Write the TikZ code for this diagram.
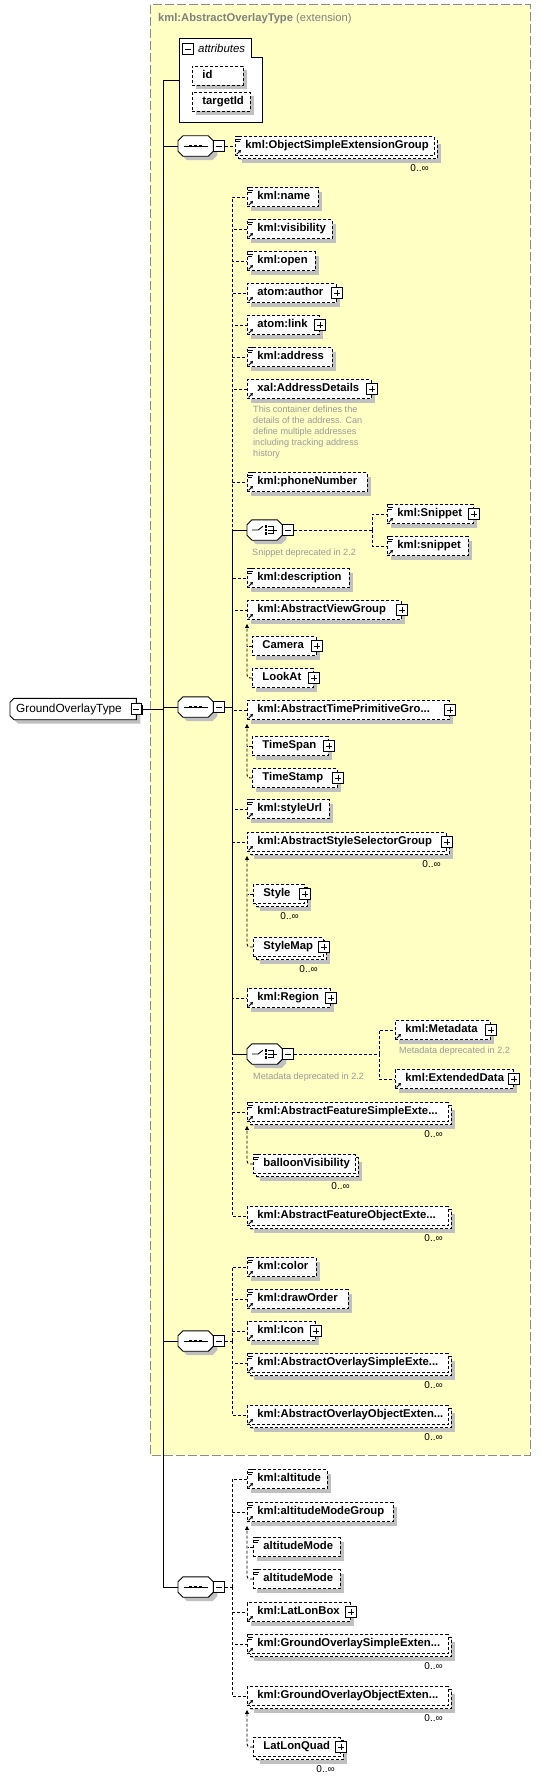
\documentclass[tikz,border=0pt]{standalone}
\usepackage{fontspec}
\setmainfont{Liberation Sans}
\usetikzlibrary{arrows.meta,calc,shadows}

\definecolor{extfill}{HTML}{FFFFC4}
\definecolor{extline}{HTML}{8C8C8C}
\definecolor{boxshadow}{HTML}{C0C0C0}
\definecolor{notegray}{HTML}{999999}
\definecolor{titlegray}{HTML}{808080}

\hyphenpenalty=10000
\exhyphenpenalty=10000

\newcommand{\elemfont}{\fontsize{11.3}{13}\selectfont\bfseries}
\newcommand{\notefont}{\fontsize{9.1}{11}\selectfont}
\newcommand{\multfont}{\fontsize{10}{12}\selectfont}

% little marks on the element boxes
\newcommand{\simplemark}[1]{%
  \draw[line width=0.8pt] ($(#1.north west)+(1,0.6)$) -- +(5,0)
    ($(#1.north west)+(1,3)$) -- +(5,0)
    ($(#1.north west)+(1,5.4)$) -- +(4,0);}
\newcommand{\refmark}[1]{%
  \draw[line width=0.9pt, -{Triangle[length=2.6pt,width=3pt]}]
    ($(#1.south west)+(1.6,-1.6)$) -- +(4.4,-4.4);}

% cut-corner outline of a compositor: node, left cut, right cut
\newcommand{\compshape}[3]{%
  \fill[boxshadow, transform canvas={shift={(4,4)}}]
    ($(#1.north west)+(#2,0)$) -- ($(#1.north east)+(-#3,0)$) -- ($(#1.north east)+(0,#3)$)
    -- ($(#1.south east)+(0,-#3)$) -- ($(#1.south east)+(-#3,0)$) -- ($(#1.south west)+(#2,0)$)
    -- ($(#1.south west)+(0,-#2)$) -- ($(#1.north west)+(0,#2)$) -- cycle;
  \draw[line width=0.9pt, fill=white]
    ($(#1.north west)+(#2,0)$) -- ($(#1.north east)+(-#3,0)$) -- ($(#1.north east)+(0,#3)$)
    -- ($(#1.south east)+(0,-#3)$) -- ($(#1.south east)+(-#3,0)$) -- ($(#1.south west)+(#2,0)$)
    -- ($(#1.south west)+(0,-#2)$) -- ($(#1.north west)+(0,#2)$) -- cycle;}
\newcommand{\seqicon}[1]{%
  \begin{scope}[shift={(#1.center)}]
    \draw[line width=0.9pt] (-12,0) -- (12,0);
    \foreach \dx in {-5,0,5} \fill (\dx-1.4,-1.4) rectangle (\dx+1.4,1.4);
  \end{scope}}
\newcommand{\choiceicon}[1]{%
  \begin{scope}[shift={(#1.center)}, line width=0.9pt]
    \draw (-12.5,0) -- (-6.5,0) -- (-1.8,-3.8);
    \draw (3.5,-3.4) -- (8.5,-3.4) -- (8.5,3.4) -- (3.5,3.4) (3.5,0) -- (12.5,0);
    \foreach \dy in {-3.4,0,3.4} \fill (0.3,\dy-1.2) rectangle (2.7,\dy+1.2);
  \end{scope}}

\tikzset{
  conn/.style={draw, line width=0.9pt},
  optconn/.style={conn, dash pattern=on 3pt off 2pt},
  boxshade/.style={drop shadow={shadow xshift=4pt, shadow yshift=-4pt, fill=boxshadow, opacity=1}},
  elem/.style={draw, line width=0.9pt, dash pattern=on 3pt off 2pt, fill=white, anchor=west,
    minimum height=19pt, inner xsep=10pt, inner ysep=0pt, align=left,
    text height=8.2pt, text depth=2.4pt, font=\elemfont, boxshade},
  w/.code={\pgfmathsetmacro\boxtw{#1-20}%
    \edef\boxtmp{\noexpand\tikzset{minimum width=#1pt, text width=\boxtw pt}}\boxtmp},
  stacked/.style={
    general shadow={shadow scale=1, shadow xshift=7pt, shadow yshift=-7pt, fill=boxshadow, opacity=1},
    general shadow={shadow scale=1, shadow xshift=3pt, shadow yshift=-3pt, fill=white, draw,
      line width=0.9pt, dash pattern=on 3pt off 2pt, opacity=1}},
  comp/.style={anchor=west, minimum width=35pt, minimum height=20pt, inner sep=0pt},
  rootbox/.style={anchor=west, minimum width=126pt, minimum height=21pt, inner sep=0pt},
  signbox/.style={draw, line width=0.9pt, fill=white, minimum size=10.5pt, inner sep=0pt,
    drop shadow={shadow xshift=1pt, shadow yshift=-1pt, fill=black, opacity=1}},
  plusbox/.style={signbox, path picture={
      \draw[line width=0.8pt]
        ([xshift=2.2pt]path picture bounding box.west) -- ([xshift=-2.2pt]path picture bounding box.east)
        ([yshift=-2.2pt]path picture bounding box.north) -- ([yshift=2.2pt]path picture bounding box.south);}},
  minusbox/.style={signbox, path picture={
      \draw[line width=0.8pt]
        ([xshift=2.2pt]path picture bounding box.west) -- ([xshift=-2.2pt]path picture bounding box.east);}},
  note/.style={font=\notefont, text=notegray, inner sep=0pt, align=left},
  mult/.style={font=\multfont, inner sep=0pt, anchor=east},
}

\begin{document}
\begin{tikzpicture}[x=1pt, y=-1pt]
    \useasboundingbox (0,0) rectangle (541,1782);
    \fill[white] (0,0) rectangle (541,1782);

    % extension area
    \draw[extline, fill=extfill, line width=1pt, dash pattern=on 9pt off 3pt] (150,5) rectangle (530,1455);
    \node[anchor=west, inner sep=0pt, text=titlegray, font=\fontsize{11.2}{13}\selectfont] at (158,19) (title)
      {\textbf{kml:AbstractOverlayType} (extension)};

    % attributes
    \draw[line width=0.9pt, fill=white] (179,38) -- (251,38) -- (251,57) -- (262,57) -- (262,122) -- (179,122) -- cycle;
    \node[minusbox] at (188,49) (attr-m) {};
    \node[anchor=west, inner sep=0pt, font=\fontsize{11.4}{13}\selectfont\itshape] at (198,48.5) (attr-t) {attributes};
    \node[elem, w=51] at (192,75.5) (id) {id};
    \node[elem, w=58] at (192,102) (targetid) {targetId};
    \coordinate (attr) at (179,80);

    % root and compositors
    \node[rootbox] at (10,709) (root) {};
    \compshape{root}{4}{0}
    \node[anchor=west, inner sep=0pt, font=\fontsize{11.8}{14}\selectfont] at ($(root.west)+(6,0)$) (root-t) {GroundOverlayType};
    \node[minusbox] at (root.east) (root-m) {};
    \node[comp] at (178,146) (seq1) {};
    \node[comp] at (178,707) (seq2) {};
    \node[comp] at (178,1341) (seq3) {};
    \node[comp] at (178,1587) (seq4) {};
    \node[comp] at (247,530) (choice1) {};
    \node[comp] at (247,1054) (choice2) {};
    \foreach \nm in {seq1,seq2,seq3,seq4} {\compshape{\nm}{5}{5} \seqicon{\nm}}
    \foreach \nm in {choice1,choice2} {\compshape{\nm}{5}{5} \choiceicon{\nm}}
    \foreach \nm in {seq1,seq2,seq3,seq4,choice1,choice2}
      \node[minusbox, anchor=west] at (\nm.east) (\nm-m) {};

    % first sequence
    \node[elem, w=199, stacked] at (235,146) (osimple) {kml:ObjectSimpleExtensionGroup};

    % second sequence
    \node[elem, w=71] at (247,197) (name) {kml:name};
    \node[elem, w=85] at (247,229) (visibility) {kml:visibility};
    \node[elem, w=68] at (247,261) (open) {kml:open};
    \node[elem, w=89] at (247,293) (author) {atom:author};
    \node[elem, w=72] at (247,325) (link) {atom:link};
    \node[elem, w=85] at (247,357) (address) {kml:address};
    \node[elem, w=124] at (247,389) (addrdetails) {xal:AddressDetails};
    \node[note, anchor=north west] at (253,405.5) (addrnote)
      {This container defines the\\details of the address. Can\\define multiple addresses\\including tracking address\\history};
    \node[elem, w=120] at (247,482) (phone) {kml:phoneNumber};
    \node[elem, w=86] at (387,514) (snippet1) {kml:Snippet};
    \node[elem, w=81] at (387,546) (snippet2) {kml:snippet};
    \node[note, anchor=west] at (252,553) (snipnote) {Snippet deprecated in 2.2};
    \node[elem, w=102] at (247,578) (description) {kml:description};
    \node[elem, w=154] at (247,610) (viewgroup) {kml:AbstractViewGroup};
    \node[elem, w=64] at (252,646) (camera) {Camera};
    \node[elem, w=61] at (252,678) (lookat) {LookAt};
    \node[elem, w=202] at (247,710) (timegroup) {kml:AbstractTimePrimitiveGro...};
    \node[elem, w=76] at (252,746) (timespan) {TimeSpan};
    \node[elem, w=85] at (252,778) (timestamp) {TimeStamp};
    \node[elem, w=82] at (247,809) (styleurl) {kml:styleUrl};
    \node[elem, w=199, stacked] at (247,842) (stylegroup) {kml:AbstractStyleSelectorGroup};
    \node[elem, w=51, stacked] at (253,894) (style) {Style};
    \node[elem, w=70, stacked] at (253,947) (stylemap) {StyleMap};
    \node[elem, w=83] at (247,998) (region) {kml:Region};
    \node[elem, w=95] at (395,1030) (metadata) {kml:Metadata};
    \node[note, anchor=west] at (399,1051) (metanote1) {Metadata deprecated in 2.2};
    \node[elem, w=118] at (395,1079) (extdata) {kml:ExtendedData};
    \node[note, anchor=west] at (253,1077) (metanote2) {Metadata deprecated in 2.2};
    \node[elem, w=201, stacked] at (247,1112) (featsimple) {kml:AbstractFeatureSimpleExte...};
    \node[elem, w=102, stacked] at (253,1164) (balloon) {balloonVisibility};
    \node[elem, w=201, stacked] at (247,1216) (featobject) {kml:AbstractFeatureObjectExte...};

    % third sequence
    \node[elem, w=69] at (247,1267) (color) {kml:color};
    \node[elem, w=101] at (247,1299) (draworder) {kml:drawOrder};
    \node[elem, w=68] at (247,1331) (icon) {kml:Icon};
    \node[elem, w=201, stacked] at (247,1363) (ovsimple) {kml:AbstractOverlaySimpleExte...};
    \node[elem, w=201, stacked] at (247,1415) (ovobject) {kml:AbstractOverlayObjectExten...};

    % fourth sequence
    \node[elem, w=80] at (247,1479) (altitude) {kml:altitude};
    \node[elem, w=146] at (247,1512) (altgroup) {kml:altitudeModeGroup};
    \node[elem, w=87] at (253,1547) (altmode1) {altitudeMode};
    \node[elem, w=87] at (253,1579) (altmode2) {altitudeMode};
    \node[elem, w=103] at (247,1612) (latlonbox) {kml:LatLonBox};
    \node[elem, w=201, stacked] at (247,1644) (gosimple) {kml:GroundOverlaySimpleExten...};
    \node[elem, w=201, stacked] at (247,1696) (goobject) {kml:GroundOverlayObjectExten...};
    \node[elem, w=87, stacked] at (253,1747) (latlonquad) {LatLonQuad};

    % marks, plus boxes, occurrences
    \foreach \nm in {osimple,name,visibility,open,address,phone,snippet1,snippet2,description,styleurl,
      featsimple,balloon,color,draworder,ovsimple,altitude,altgroup,altmode1,altmode2,gosimple}
      \simplemark{\nm};
    \foreach \nm in {osimple,name,visibility,open,author,link,address,addrdetails,phone,snippet1,snippet2,
      description,viewgroup,timegroup,styleurl,stylegroup,region,metadata,extdata,featsimple,featobject,
      color,draworder,icon,ovsimple,ovobject,altitude,altgroup,latlonbox,gosimple,goobject}
      \refmark{\nm};
    \foreach \nm in {author,link,addrdetails,snippet1,viewgroup,camera,lookat,timegroup,timespan,timestamp,
      stylegroup,style,stylemap,region,metadata,extdata,icon,latlonbox,latlonquad}
      \node[plusbox] at (\nm.east) (\nm-p) {};
    \foreach \nm in {osimple,stylegroup,style,stylemap,featsimple,balloon,featobject,ovsimple,ovobject,
      gosimple,goobject,latlonquad}
      \node[mult] at ($(\nm.east)+(-6,22)$) (\nm-n) {0..∞};

    % main connectors
    \coordinate (mainbus) at (163,709);
    \draw[conn] (root-m.east) -- (mainbus);
    \foreach \nm in {attr,seq1.west,seq2.west,seq3.west,seq4.west}
      \draw[conn] (mainbus) |- (\nm);
    \draw[optconn] (seq1-m.east) -- (osimple.west);

    \coordinate (bus2) at (232,707);
    \draw[conn] (seq2-m.east) -- (bus2);
    \foreach \nm in {name,visibility,open,author,link,address,addrdetails,phone,description,viewgroup,
      timegroup,styleurl,stylegroup,region,featsimple,featobject}
      \draw[optconn] (bus2) |- (\nm.west);
    \foreach \nm in {choice1,choice2}
      \draw[conn] (bus2) |- (\nm.west);

    \coordinate (chbus1) at (372,530);
    \draw[optconn] (choice1-m.east) -- (chbus1);
    \foreach \nm in {snippet1,snippet2} \draw[optconn] (chbus1) |- (\nm.west);
    \coordinate (chbus2) at (379,1054);
    \draw[optconn] (choice2-m.east) -- (chbus2);
    \foreach \nm in {metadata,extdata} \draw[optconn] (chbus2) |- (\nm.west);

    \coordinate (bus3) at (232,1341);
    \draw[optconn] (seq3-m.east) -- (bus3);
    \foreach \nm in {color,draworder,icon,ovsimple,ovobject}
      \draw[optconn] (bus3) |- (\nm.west);

    \coordinate (bus4) at (232,1587);
    \draw[optconn] (seq4-m.east) -- (bus4);
    \foreach \nm in {altitude,altgroup,latlonbox,gosimple,goobject}
      \draw[optconn] (bus4) |- (\nm.west);

    % substitution groups
    \foreach \head/\last in {viewgroup/lookat,timegroup/timestamp,stylegroup/stylemap,
      featsimple/balloon,altgroup/altmode2,goobject/latlonquad}
      \draw[optconn, rounded corners=3pt, -{Triangle[length=4pt,width=4pt]}]
        (\last.west) -| ($(\head.south west)+(0,4)$);
    \foreach \nm in {camera,timespan,style,altmode1}
      \draw[optconn] (\nm.west) -- ++(-5.5,0);
\end{tikzpicture}
\end{document}
